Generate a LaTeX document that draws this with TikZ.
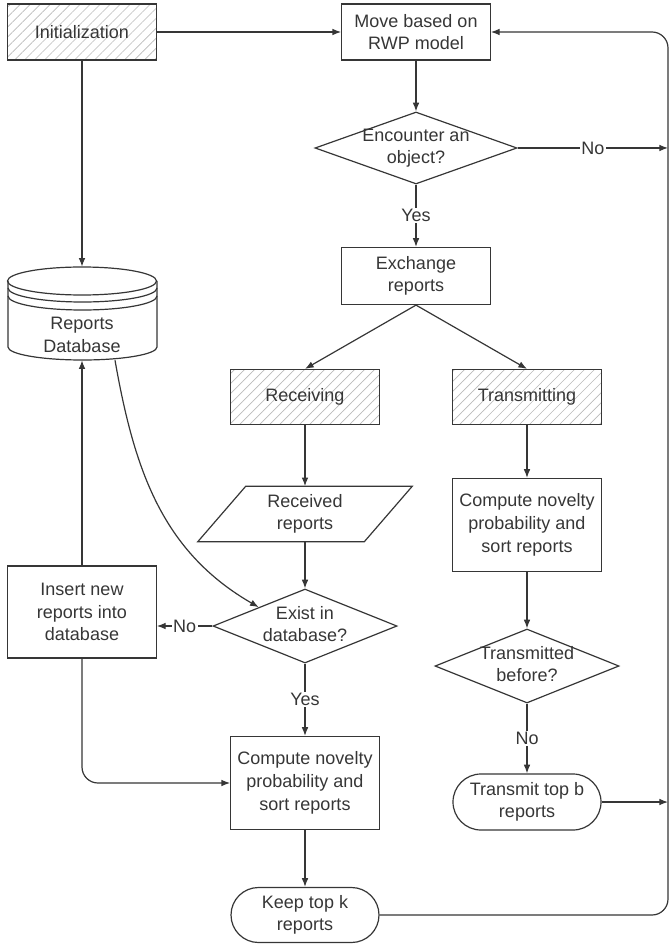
\documentclass[tikz,border=0pt]{standalone}
\usepackage{fontspec}
\setmainfont{Liberation Sans}
\usetikzlibrary{shapes.geometric, shapes.misc, patterns.meta, arrows.meta}

\definecolor{ink}{HTML}{363636}
% text of a fixed-size shape, kept from stretching it
\newcommand{\dtext}[1]{\makebox[0pt]{\begin{tabular}{@{}c@{}}#1\end{tabular}}}

\begin{document}
\begin{tikzpicture}[x=0.75pt,y=0.75pt,>={Latex[length=6.5pt,width=5pt]},
  every node/.style={font=\fontsize{13.5}{17}\selectfont, text=ink, align=center},
  line/.style={draw=ink, line width=0.9pt},
  flow/.style={line, ->},
  box/.style={line, rectangle, minimum width=111.5pt, minimum height=42pt, inner sep=0pt},
  tallbox/.style={box, minimum height=69.75pt},
  hatchbox/.style={box, pattern={Lines[angle=45,distance=5.3pt,line width=0.5pt]}, pattern color=gray!55},
  decision/.style={line, diamond, inner sep=0pt, minimum width=138pt, minimum height=55.5pt},
  terminal/.style={line, rounded rectangle, minimum width=111pt, minimum height=41.25pt, inner sep=0pt},
  answer/.style={midway, fill=white, inner sep=1pt}]

\useasboundingbox (0,0) rectangle (670,-944);

% left column
\node[hatchbox] (init) at (82,-32) {Initialization};
\node[minimum width=111.75pt, minimum height=69.75pt, inner sep=0pt] (db) at (82,-313.5) {};
\draw[line, fill=white] (8,-281) -- (8,-347) arc[start angle=180, end angle=360, x radius=74.5, y radius=13] -- (157,-281);
\draw[line] (82,-281) ellipse[x radius=74.5, y radius=14];
\draw[line] (8,-288) arc[start angle=180, end angle=360, x radius=74.5, y radius=14];
\draw[line] (8,-296) arc[start angle=180, end angle=360, x radius=74.5, y radius=14];
\node (dbtext) at (82,-335) {Reports\\Database};
\node[box, minimum height=69pt] (insert) at (82,-612) {Insert new\\reports into\\database};

% main column
\node[box] (move) at (416,-32) {Move based on\\RWP model};
\node[decision, minimum width=151.5pt, minimum height=54pt] (enc) at (416,-148) {\dtext{Encounter an\\object?}};
\node[box, minimum height=42.75pt] (exch) at (416,-276) {Exchange\\reports};

% receiving side
\node[hatchbox, minimum height=41.25pt] (recv) at (305,-397) {Receiving};
\node[minimum width=124.5pt, minimum height=41.25pt, inner sep=0pt] (rcvd) at (305,-514) {Received\\reports};
\draw[line] ([xshift=18pt]rcvd.north west) -- ([xshift=18pt]rcvd.north east)
  -- ([xshift=-18pt]rcvd.south east) -- ([xshift=-18pt]rcvd.south west) -- cycle;
\node[decision] (exist) at (305,-626) {\dtext{Exist in\\database?}};
\node[tallbox] (cmpl) at (305,-783) {Compute novelty\\probability and\\sort reports};
\node[terminal] (keep) at (305,-915) {\dtext{Keep top k\\reports}};

% transmitting side
\node[hatchbox, minimum height=41.25pt] (trans) at (527,-397) {Transmitting};
\node[tallbox] (cmpt) at (527,-525) {Compute novelty\\probability and\\sort reports};
\node[decision] (txd) at (527,-666) {\dtext{Transmitted\\before?}};
\node[terminal, minimum height=42pt] (txb) at (527,-802) {\dtext{Transmit top b\\reports}};

\coordinate (ret) at (668,-32);

% connectors
\draw[flow] (init) -- (move);
\draw[flow] (init) -- (db);
\draw[flow] (move) -- (enc);
\draw[flow] (enc) -- node[answer]{Yes} (exch);
\draw[flow] (enc.east) -- node[answer]{No} (enc.east -| ret);
\draw[flow] (exch.south) -- (recv.north);
\draw[flow] (exch.south) -- (trans.north);
\draw[flow] (recv) -- (rcvd);
\draw[flow] (rcvd) -- (exist);
\draw[flow] ([xshift=24.75pt]db.south) to[out=-80, in=150] (exist.north west);
\draw[flow] (exist.west) -- node[answer]{No} (exist.west -| insert.east);
\draw[flow] (insert) -- (db);
\draw[flow] (exist) -- node[answer]{Yes} (cmpl);
\draw[flow, rounded corners=12pt] (insert.south) |- (cmpl.west);
\draw[flow] (cmpl) -- (keep);
\draw[flow, rounded corners=12pt] (keep.east) -| (ret) -- (move.east);
\draw[flow] (trans) -- (cmpt);
\draw[flow] (cmpt) -- (txd);
\draw[flow] (txd) -- node[answer]{No} (txb);
\draw[flow] (txb.east) -- (txb.east -| ret);

\end{tikzpicture}
\end{document}
